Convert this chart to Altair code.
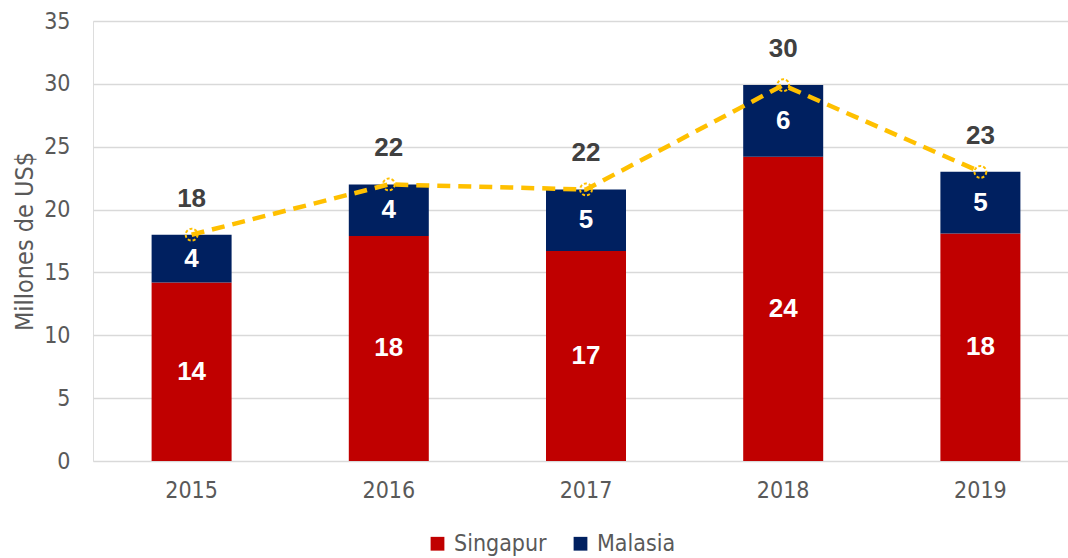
import altair as alt
import pandas as pd

years = ["2015", "2016", "2017", "2018", "2019"]
singapur = [14.2, 17.9, 16.7, 24.2, 18.1]
malasia = [3.8, 4.1, 4.9, 5.7, 4.9]
series = ["Singapur", "Malasia"]
colors = ["#C00000", "#002060"]

NARROW = "DejaVu Sans Condensed, Roboto, sans-serif"
SANS = "Liberation Sans, Arial, sans-serif"

rows = []
for i, y in enumerate(years):
    s, m = singapur[i], malasia[i]
    rows.append({"year": y, "serie": "Singapur", "y0": 0, "y1": s,
                 "mid": s / 2, "label": f"{round(s)}"})
    rows.append({"year": y, "serie": "Malasia", "y0": s, "y1": s + m,
                 "mid": s + m / 2, "label": f"{round(m)}"})
df = pd.DataFrame(rows)
tot = pd.DataFrame({"year": years,
                    "total": [a + b for a, b in zip(singapur, malasia)]})
tot["label"] = tot["total"].round().astype(int).astype(str)

xscale = alt.Scale(domain=years, range=[0, 986], paddingInner=0.594, paddingOuter=0.297)
xenc = alt.X("year:N", title=None, scale=xscale,
             axis=alt.Axis(labelAngle=0, labelFontSize=23, labelColor="#595959",
                           labelFont=NARROW, ticks=False, domain=False, labelPadding=18,
                           grid=False))
yscale = alt.Scale(domain=[0, 35], nice=False)

bars = alt.Chart(df).mark_bar(size=80).encode(
    x=xenc,
    y=alt.Y("y0:Q", scale=yscale, title="Millones de US$",
            axis=alt.Axis(values=list(range(0, 36, 5)), labelFontSize=23,
                          labelColor="#595959", labelFont=NARROW, ticks=False,
                          domain=False, labelPadding=23, gridColor="#d9d9d9",
                          gridWidth=1.5, titleFont=NARROW, titleFontSize=25,
                          titleColor="#595959", titleFontWeight="normal",
                          titlePadding=6)),
    y2="y1:Q",
    color=alt.Color("serie:N", scale=alt.Scale(domain=series, range=colors),
                    sort=series,
                    legend=alt.Legend(title=None, orient="none", legendX=333, legendY=511,
                                      direction="horizontal",
                                      labelFont=NARROW, labelFontSize=23,
                                      labelColor="#595959", symbolType="square",
                                      symbolSize=190, columnPadding=22, labelOffset=5,
                                      symbolStrokeWidth=0)),
)

inner = alt.Chart(df).mark_text(font=SANS, fontSize=26, fontWeight="bold",
                                color="white", baseline="middle").encode(
    x=alt.X("year:N", scale=xscale), y=alt.Y("mid:Q", scale=yscale), text="label:N")

line = alt.Chart(tot).mark_line(color="#FFC000", strokeWidth=4.5,
                                strokeDash=[13, 8]).encode(
    x=alt.X("year:N", scale=xscale), y=alt.Y("total:Q", scale=yscale))

pts = alt.Chart(tot).mark_point(shape="circle", size=140, filled=False,
                                color="#FFC000", strokeWidth=2, opacity=1,
                                strokeDash=[3, 2]).encode(
    x=alt.X("year:N", scale=xscale), y=alt.Y("total:Q", scale=yscale))

tlabels = alt.Chart(tot).mark_text(font=SANS, fontSize=26, fontWeight="bold",
                                   color="#404040", dy=-36, baseline="middle").encode(
    x=alt.X("year:N", scale=xscale), y=alt.Y("total:Q", scale=yscale), text="label:N")

chart = alt.layer(bars, inner, line, pts, tlabels).properties(
    width=975, height=440,
    autosize=alt.AutoSizeParams(type="none"),
    padding={"left": 93, "top": 21, "right": 0, "bottom": 97},
).configure_view(stroke=None, clip=False).configure(background="white")

chart.save("out.html", embed_options={"renderer": "svg", "actions": False})
